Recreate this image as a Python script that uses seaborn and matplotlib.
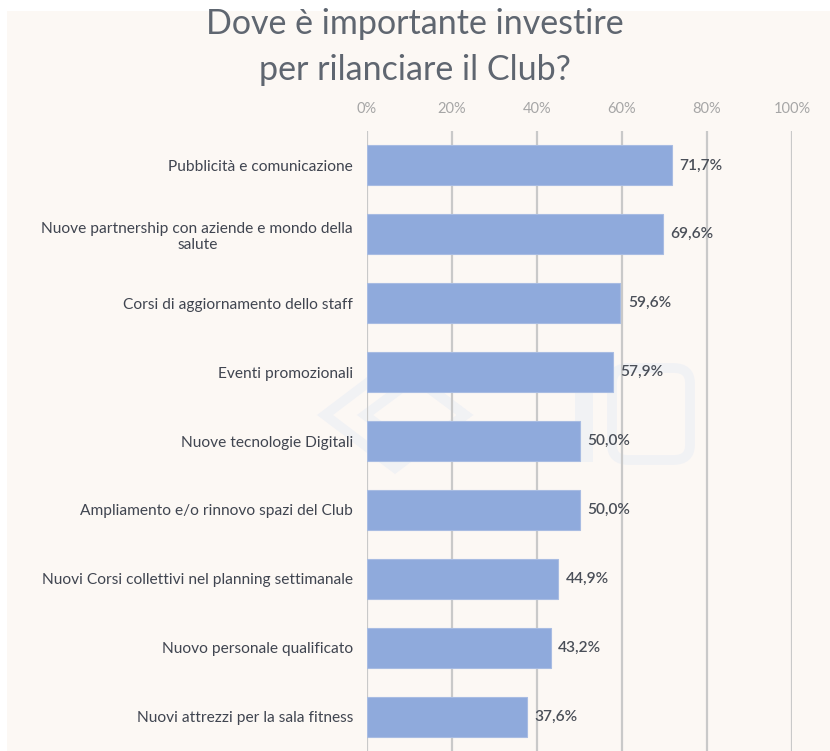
import matplotlib
matplotlib.use("Agg")
import matplotlib.pyplot as plt
import seaborn as sns
import pandas as pd
from matplotlib.patches import Rectangle, FancyBboxPatch, Polygon

categories = [
    "Pubblicità e comunicazione",
    "Nuove partnership con aziende e mondo della\nsalute",
    "Corsi di aggiornamento dello staff",
    "Eventi promozionali",
    "Nuove tecnologie Digitali",
    "Ampliamento e/o rinnovo spazi del Club",
    "Nuovi Corsi collettivi nel planning settimanale",
    "Nuovo personale qualificato",
    "Nuovi attrezzi per la sala fitness",
]
values = [71.7, 69.6, 59.6, 57.9, 50.0, 50.0, 44.9, 43.2, 37.6]
tick_values = [0, 20, 40, 60, 80, 100]
tick_labels = ["0%", "20%", "40%", "60%", "80%", "100%"]

title = "Dove è importante investire\nper rilanciare il Club?"

BG = "#FCF8F4"
BAR = "#8FAADC"
GRID = "#C9C9C9"
TXT = "#404550"
MARK = "#F1F2F4"
FONT = ["Lato", "DejaVu Sans"]

sns.set_theme(style="white")
plt.rcParams["font.family"] = FONT

df = pd.DataFrame({"categoria": categories, "valore": values})

W, H = 830, 751
fig = plt.figure(figsize=(W / 100, H / 100), dpi=100, facecolor="white")


def fx(px):
    return px / W


def fy(py):
    return 1 - py / H


# page background
fig.patches.append(Rectangle((fx(7), 0), 1 - fx(7), fy(11),
                             transform=fig.transFigure, facecolor=BG,
                             edgecolor="none", zorder=-10))

# faint logo watermark behind the chart
wm_kw = dict(transform=fig.transFigure, facecolor="none", edgecolor=MARK,
             linewidth=7, zorder=-5, joinstyle="miter")
fig.patches.append(Polygon([(fx(325), fy(415)), (fx(395), fy(362)),
                            (fx(465), fy(415)), (fx(395), fy(468))],
                           closed=True, **wm_kw))
fig.patches.append(Polygon([(fx(365), fy(415)), (fx(415), fy(378)),
                            (fx(465), fy(415)), (fx(415), fy(452))],
                           closed=True, **wm_kw))
fig.patches.append(Rectangle((fx(575), fy(462)), fx(18), fy(368) - fy(462),
                             transform=fig.transFigure, facecolor=MARK,
                             edgecolor="none", zorder=-5))
fig.patches.append(FancyBboxPatch((fx(612), fy(460)), fx(78), fy(368) - fy(460),
                                  boxstyle="round,pad=0,rounding_size=0.02",
                                  transform=fig.transFigure, facecolor="none",
                                  edgecolor=MARK, linewidth=7, zorder=-5))

ax = fig.add_axes([fx(367), 0, fx(792) - fx(367), (751 - 131) / H])
ax.set_facecolor("none")

sns.barplot(data=df, x="valore", y="categoria", orient="h", color=BAR,
            width=0.58, edgecolor="#A8BCE2", linewidth=0.8, ax=ax, zorder=3,
            saturation=1)

ax.set_xlim(0, 100)
ax.set_ylim(len(categories) - 0.5, -0.5)
ax.set_xticks(tick_values)
ax.set_xticklabels(tick_labels)
ax.xaxis.tick_top()
ax.tick_params(axis="x", length=0, pad=11, labelsize=10.5, labelcolor="#A6A6A6")
ax.tick_params(axis="y", length=0, pad=10, labelsize=11.2, labelcolor=TXT)
for lab in ax.get_yticklabels():
    lab.set_multialignment("center")
ax.set_xlabel("")
ax.set_ylabel("")
for s in ax.spines.values():
    s.set_visible(False)
for t in tick_values:
    ax.axvline(t, color=GRID, lw=1.6, zorder=1)

for i, v in enumerate(values):
    ax.text(v + 1.8, i, f"{v:.1f}%".replace(".", ","), va="center", ha="left",
            fontsize=11.2, fontweight="semibold", color="#4A4F58", zorder=4)

fig.text(fx(415), fy(47), title, ha="center", va="center", fontsize=24.5,
         color="#5F6670", linespacing=1.5)

fig.savefig("out.png", dpi=100, facecolor=fig.get_facecolor())
